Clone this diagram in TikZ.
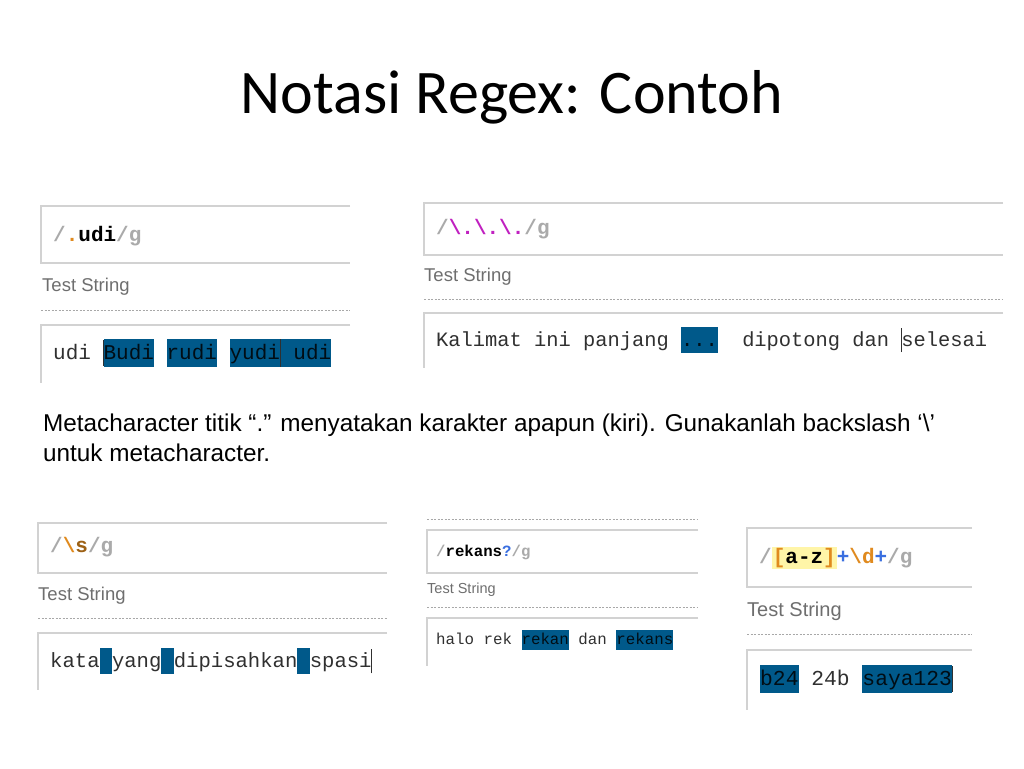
\documentclass[tikz,border=0pt]{standalone}
\usepackage{fontspec}
\setmainfont{Liberation Sans}
\newfontfamily\titlefont{Carlito}
\newfontfamily\monofont{Liberation Mono}
\usetikzlibrary{calc}
\definecolor{hlblue}{HTML}{00598A}
\definecolor{boxgray}{HTML}{D2D2D2}
\definecolor{tsgray}{HTML}{6E6E6E}
\definecolor{slgray}{HTML}{AAAAAA}
\definecolor{dotor}{HTML}{E08A1E}
\definecolor{mag}{HTML}{C020C0}
\definecolor{qblue}{HTML}{3A6FE0}
\definecolor{yel}{HTML}{FFF5A8}
\definecolor{txt}{HTML}{303030}
\newcommand{\hl}[1]{{\setlength\fboxsep{0pt}\colorbox{hlblue}{\vrule width0pt height 0.95em depth 0.35em\textcolor{black!85!hlblue}{#1}}}}
\newcommand{\cur}{\kern-0.4pt\vrule width 0.9pt height 0.9em depth 0.3em\kern-0.5pt}
\newcommand{\sep}{{\setlength\fboxsep{0pt}\colorbox{white}{\vrule width0.8pt height 0.95em depth 0.35em}}}
\begin{document}
\begin{tikzpicture}[x=1pt,y=-1pt,
  frame/.style={draw=boxgray,line width=1.2pt},
  dline/.style={draw=boxgray!80!black,dash pattern=on 2pt off 1.5pt,line width=0.7pt},
  ts/.style={anchor=west,inner sep=0,text=tsgray,font=\fontsize{18.5}{22}\selectfont},
  rx/.style={anchor=west,inner sep=0,font=\monofont\bfseries\fontsize{21}{24}\selectfont},
  tx/.style={anchor=west,inner sep=0,text=txt,font=\monofont\fontsize{21}{24}\selectfont}]
\useasboundingbox[fill=white] (0,0) rectangle (1024,768);
\node[anchor=center,inner sep=0,font=\titlefont\fontsize{62}{70}\selectfont] (title) at (512,97) {Notasi Regex: Contoh};
% panel 1
\draw[frame] (350,206) -- (41,206) -- (41,263) -- (350,263);
\node[rx] (r1) at (53,236) {\textcolor{slgray}{/}\textcolor{dotor}{.}udi\textcolor{slgray}{/g}};
\node[ts] (t1) at (42,287) {Test String};
\draw[dline] (41,310) -- (350,310);
\draw[frame] (350,325) -- (41,325) -- (41,383);
\node[tx] (s1) at (53,353) {udi~\cur\hl{Budi}~\hl{rudi}~\hl{yudi}\sep\hl{~udi}};
% panel 2
\draw[frame] (1003,203) -- (424,203) -- (424,255) -- (1003,255);
\node[rx] (r2) at (436,229) {\textcolor{slgray}{/}\textcolor{mag}{\textbackslash.\textbackslash.\textbackslash.}\textcolor{slgray}{/g}};
\node[ts] (t2) at (424,277) {Test String};
\draw[dline] (424,299) -- (1003,299);
\draw[frame] (1003,313) -- (424,313) -- (424,368);
\node[tx,font=\monofont\fontsize{20.4}{24}\selectfont] (s2) at (436,340) {Kalimat~ini~panjang~\hl{...}~~dipotong~dan~\cur selesai};
% caption
\node[anchor=west,inner sep=0,font=\fontsize{24.3}{30}\selectfont,align=left] (cap) at (43,438) {Metacharacter titik “.” menyatakan karakter apapun (kiri). Gunakanlah backslash ‘\textbackslash’\\untuk metacharacter.};
% panel 3
\draw[frame] (387,523) -- (38,523) -- (38,573) -- (387,573);
\node[rx] (r3) at (50,547) {\textcolor{slgray}{/}\textcolor{dotor}{\textbackslash}\textcolor{dotor!70!black}{s}\textcolor{slgray}{/g}};
\node[ts] (t3) at (38,596) {Test String};
\draw[dline] (38,618) -- (387,618);
\draw[frame] (387,633) -- (38,633) -- (38,690);
\node[tx,font=\monofont\fontsize{20.6}{24}\selectfont] (s3) at (50,661) {kata\hl{~}yang\hl{~}dipisahkan\hl{~}spasi\cur};
% panel 4
\draw[dline] (427,519) -- (698,519);
\draw[frame] (698,530) -- (427,530) -- (427,573) -- (698,573);
\node[rx,font=\monofont\bfseries\fontsize{15.7}{18}\selectfont] (r4) at (436,552) {\textcolor{slgray}{/}rekans\textcolor{qblue}{?}\textcolor{slgray}{/g}};
\node[ts,font=\fontsize{14.5}{17}\selectfont] (t4) at (427,590) {Test String};
\draw[dline] (427,607) -- (698,607);
\draw[frame] (698,618) -- (427,618) -- (427,666);
\node[tx,font=\monofont\fontsize{15.8}{18}\selectfont] (s4) at (436,640) {halo~rek~\hl{rekan}~dan~\hl{rekans}};
% panel 5
\draw[frame] (972,528) -- (747,528) -- (747,587) -- (972,587);
\node[rx,font=\monofont\bfseries\fontsize{21}{24}\selectfont] (r5) at (759,558) {\textcolor{slgray}{/}{\setlength\fboxsep{1pt}\colorbox{yel}{\textcolor{dotor}{[}a-z\textcolor{dotor}{]}}}\textcolor{qblue}{+}\textcolor{dotor}{\textbackslash d}\textcolor{qblue}{+}\textcolor{slgray}{/g}};
\node[ts,font=\fontsize{20}{24}\selectfont] (t5) at (747,611) {Test String};
\draw[dline] (747,634) -- (972,634);
\draw[frame] (972,650) -- (747,650) -- (747,710);
\node[tx,font=\monofont\fontsize{21.3}{24}\selectfont] (s5) at (760,679) {\hl{b24}~24b~\hl{saya123}\cur};
\end{tikzpicture}
\end{document}
